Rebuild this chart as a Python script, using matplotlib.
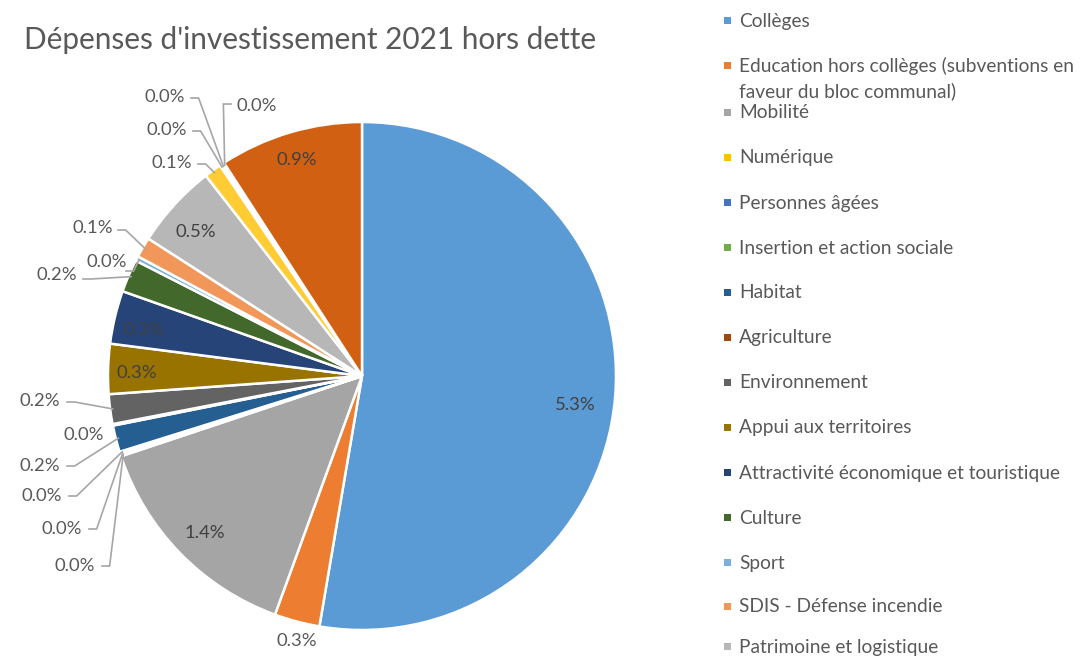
import matplotlib
matplotlib.use("Agg")
import matplotlib.pyplot as plt
from matplotlib.patches import Rectangle
import numpy as np

plt.rcParams['font.family'] = ['Lato', 'DejaVu Sans']

# ---------------- data ----------------
categories = [
    "Collèges",
    "Education hors collèges (subventions en\nfaveur du bloc communal)",
    "Mobilité",
    "Numérique",
    "Personnes âgées",
    "Insertion et action sociale",
    "Habitat",
    "Agriculture",
    "Environnement",
    "Appui aux territoires",
    "Attractivité économique et touristique",
    "Culture",
    "Sport",
    "SDIS - Défense incendie",
    "Patrimoine et logistique",
    "", "", "", "", "",   # further series, legend entries cut off in the reference
]
values = [5.30, 0.29, 1.44, 0.01, 0.01, 0.01, 0.17, 0.01, 0.19, 0.32, 0.34,
          0.21, 0.03, 0.13, 0.54, 0.11, 0.01, 0.01, 0.01, 0.92]
labels = ["5.3%", "0.3%", "1.4%", "0.0%", "0.0%", "0.0%", "0.2%", "0.0%", "0.2%",
          "0.3%", "0.3%", "0.2%", "0.0%", "0.1%", "0.5%", "0.1%", "0.0%", "0.0%",
          "0.0%", "0.9%"]
colors = ["#5B9BD5", "#ED7D31", "#A5A5A5", "#FFC000", "#4472C4", "#70AD47",
          "#255E91", "#9E480E", "#636363", "#997300", "#264478", "#43682B",
          "#7CAFDD", "#F1975A", "#B7B7B7", "#FFCD33", "#698ED0", "#8CC168",
          "#327DC2", "#D26012"]
title = "Dépenses d'investissement 2021 hors dette"

# ---------------- layout ----------------
W, H = 1080, 659
CX, CY, R = 362, 376, 254  # pie centre / radius in pixels


def p(px, py):
    """pixel position -> pie data coordinates"""
    return ((px - CX) / R, (CY - py) / R)


# label placement: (kind, text centre px, line start px or None)
label_layout = [
    ("in", (575, 405), None),
    ("out", (297, 641), None),
    ("in", (205, 533), None),
    ("out", (75, 566), (102, 566)),
    ("out", (62, 529), (89, 529)),
    ("out", (42, 496), (69, 496)),
    ("out", (40, 466), (67, 466)),
    ("out", (84, 435), None),
    ("out", (40, 401), (67, 402)),
    ("in", (137, 373), None),
    ("in", (144, 330), None),
    ("out", (57, 275), (83, 279)),
    ("out", (107, 262), (126, 271)),
    ("out", (93, 228), (118, 230)),
    ("in", (196, 232), None),
    ("out", (172, 163), (198, 164)),
    ("out", (167, 130), (193, 131)),
    ("out", (165, 97), (191, 98)),
    ("out", (257, 106), (231, 104)),
    ("in", (297, 160), None),
]

fig = plt.figure(figsize=(W / 100, H / 100), dpi=100)
fig.patch.set_facecolor("white")
ax = fig.add_axes([(CX - R) / W, (H - CY - R) / H, 2 * R / W, 2 * R / H])
wedges, _ = ax.pie(values, colors=colors, startangle=90, counterclock=False,
                   radius=1.0, wedgeprops=dict(edgecolor="white", linewidth=1.8))
ax.set_xlim(-1, 1)
ax.set_ylim(-1, 1)
ax.set_aspect("equal")
ax.axis("off")

for w, lab, (kind, tpos, lstart) in zip(wedges, labels, label_layout):
    tx, ty = p(*tpos)
    if kind == "in":
        ax.text(tx, ty, lab, ha="center", va="center", fontsize=13.3,
                color="#404040")
    else:
        ax.text(tx, ty, lab, ha="center", va="center", fontsize=13.3,
                color="#595959")
        if lstart is not None:
            mid = np.deg2rad((w.theta1 + w.theta2) / 2)
            ex, ey = 0.99 * np.cos(mid), 0.99 * np.sin(mid)
            sx, sy = p(*lstart)
            dirx = 1 if ex > sx else -1
            elx = sx + dirx * 0.03
            ax.plot([sx, elx, ex], [sy, sy, ey], color="#A6A6A6", lw=1.2,
                    solid_joinstyle="miter", clip_on=False)

fig.text(24 / W, 1 - 40 / H, title, fontsize=21.4, color="#595959",
         ha="left", va="center")

# legend
leg_y = [20, 65, 112, 157, 202, 247, 292, 337, 382, 427, 472, 517, 562, 606, 646]
for name, col, y in zip(categories, colors, leg_y):
    s = 7
    fig.add_artist(Rectangle(((727 - s / 2) / W, 1 - (y + s / 2) / H), s / W, s / H,
                             transform=fig.transFigure, facecolor=col,
                             edgecolor="none"))
    for i, line in enumerate(name.split("\n")):
        fig.text(739 / W, 1 - (y + 1 + 25 * i) / H, line, fontsize=13.8,
                 color="#595959", ha="left", va="center")

fig.savefig("out.png", dpi=100, facecolor="white")
